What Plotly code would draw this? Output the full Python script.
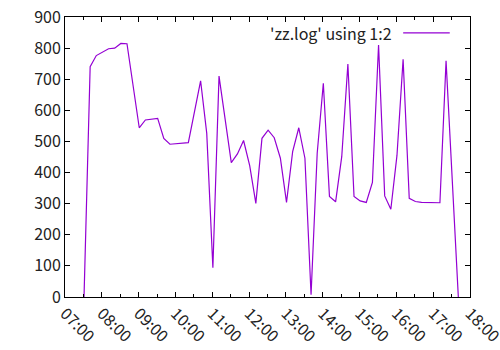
import plotly.graph_objects as go

times = ["07:31", "07:41", "07:51", "08:01", "08:11", "08:21", "08:31", "08:41",
         "09:01", "09:11", "09:31", "09:41", "09:51", "10:21", "10:41", "10:51",
         "11:01", "11:11", "11:31", "11:41", "11:51", "12:01", "12:11", "12:21",
         "12:31", "12:41", "12:51", "13:01", "13:11", "13:21", "13:31", "13:41",
         "13:51", "14:01", "14:11", "14:21", "14:31", "14:41", "14:51", "15:01",
         "15:11", "15:21", "15:31", "15:41", "15:51", "16:01", "16:11", "16:21",
         "16:31", "16:41", "16:51", "17:11", "17:21", "17:41"]
values = [0, 740, 776, 787, 798, 800, 815, 814,
          544, 569, 574, 510, 491, 496, 695, 526,
          94, 710, 432, 460, 503, 422, 301, 510,
          536, 512, 446, 304, 467, 544, 446, 7,
          462, 687, 323, 306, 451, 749, 323, 309,
          304, 368, 810, 325, 282, 455, 764, 317,
          307, 304, 303, 303, 759, 0]
hour_labels = ["07:00", "08:00", "09:00", "10:00", "11:00", "12:00",
               "13:00", "14:00", "15:00", "16:00", "17:00", "18:00"]
y_ticks = [0, 100, 200, 300, 400, 500, 600, 700, 800, 900]
series_name = "'zz.log' using 1:2"

DAY = "2020-01-01 "
xs = [DAY + t for t in times]
tickvals = [DAY + h for h in hour_labels]

color = "#9400D3"
font = dict(family="Noto Sans CJK JP", size=16, color="#222222")

fig = go.Figure()
fig.add_trace(go.Scatter(x=xs, y=values, mode="lines",
                         line=dict(color=color, width=1.2),
                         name=series_name, showlegend=False, cliponaxis=False))

fig.update_layout(
    width=500, height=350,
    margin=dict(l=65, r=30, t=17, b=53),
    paper_bgcolor="white", plot_bgcolor="white",
    font=font,
    xaxis=dict(
        type="date", range=[tickvals[0], DAY + "18:00:01"],
        tickvals=tickvals, ticktext=hour_labels, tickangle=45,
        ticks="inside", ticklen=5, tickcolor="black",
        showline=True, linecolor="black", linewidth=1, mirror="allticks",
        showgrid=False, zeroline=False, automargin=False,
        ticklabeloverflow="allow",
        minor=dict(dtick=1800000, ticks="inside", ticklen=3, tickcolor="black", showgrid=False),
        tickfont=font,
    ),
    yaxis=dict(
        range=[0, 900], tickvals=y_ticks, automargin=False,
        ticks="inside", ticklen=5, tickcolor="black",
        showline=True, linecolor="black", linewidth=1, mirror="allticks",
        showgrid=False, zeroline=False, tickfont=font,
    ),
)

fig.add_annotation(xref="paper", yref="paper", x=0.813, y=0.943,
                   xanchor="right", yanchor="middle", showarrow=False,
                   text=series_name, font=font)
fig.add_shape(type="line", xref="paper", yref="paper",
              x0=0.835, x1=0.95, y0=0.943, y1=0.943,
              line=dict(color=color, width=1.2))

fig.write_html("out.html")
